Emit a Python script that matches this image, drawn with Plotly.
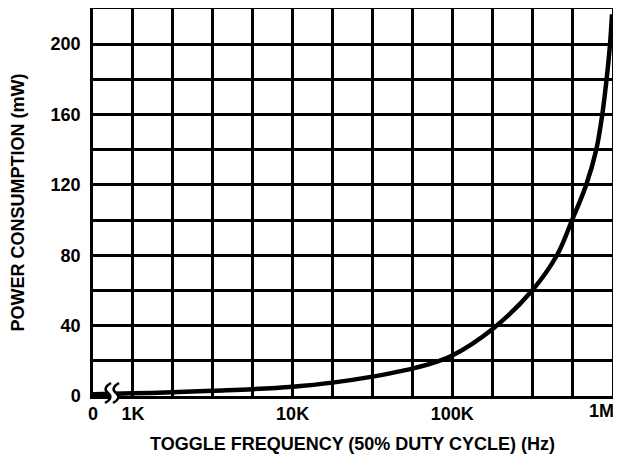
import plotly.graph_objects as go

# Data
freq_hz = [562, 1000, 1778, 3162, 5623, 10000, 17783, 31623, 46600, 56234, 83000,
           100000, 178000, 316228, 452000, 562341, 689000, 797000, 869000,
           925000, 972000, 1000000]
power_mw = [1.0, 1.5, 2.1, 3.0, 3.9, 5.3, 7.6, 11.0, 14.0, 15.6, 20.0,
            23.0, 38.0, 60.0, 80.0, 100.0, 120.0, 140.0, 160.0,
            180.0, 200.0, 217.0]

x_tick_exps = [2.75 + 0.25 * i for i in range(14)]
x_tick_text = ["0", "1K", "", "", "", "10K", "", "", "", "100K", "", "", "", ""]
x_last_label = "1M"
y_tick_vals = list(range(0, 221, 20))
y_tick_text = ["0", "", "40", "", "80", "", "120", "", "160", "", "200", ""]

FONT = "Liberation Sans"
FS = 18

# The page body has an 8px default margin, so the figure is offset by 8px.
OFF = 8
W, H = 621 - OFF, 464 - OFF
L, R, T, B = 93 - OFF, 612 - OFF, 1, 396 - OFF
PW, PH = R - L, B - T


def px(x_page):
    return (x_page - OFF - L) / PW


def py(y_page):
    return (B - (y_page - OFF)) / PH


fig = go.Figure()
fig.add_trace(go.Scatter(
    x=freq_hz, y=power_mw, mode="lines",
    line=dict(color="black", width=4.5, shape="spline", smoothing=1.0),
    showlegend=False, hoverinfo="skip",
))


# axis break symbol (two wavy lines) with white gap between
def wave(cx):
    return (f"M {px(cx + 3)},{py(383)} "
            f"Q {px(cx - 6)},{py(388)} {px(cx)},{py(393)} "
            f"Q {px(cx + 6)},{py(398)} {px(cx - 3)},{py(403)}")


c1, c2 = 108, 116
gap = (f"M {px(c1 + 3)},{py(383)} Q {px(c1 - 6)},{py(388)} {px(c1)},{py(393)} "
       f"Q {px(c1 + 6)},{py(398)} {px(c1 - 3)},{py(403)} "
       f"L {px(c2 - 3)},{py(403)} "
       f"Q {px(c2 + 6)},{py(398)} {px(c2)},{py(393)} "
       f"Q {px(c2 - 6)},{py(388)} {px(c2 + 3)},{py(383)} Z")
fig.add_shape(type="path", path=gap, xref="paper", yref="paper",
              fillcolor="white", line=dict(width=0), layer="above")
for c in (c1, c2):
    fig.add_shape(type="path", path=wave(c), xref="paper", yref="paper",
                  line=dict(color="black", width=2.5), layer="above")

# last x label, kept inside the page edge
fig.add_annotation(
    x=x_tick_exps[-1], y=0, xref="x", yref="paper", text=x_last_label,
    xanchor="right", yanchor="top", xshift=4, yshift=-3, showarrow=False,
    font=dict(family=FONT, size=FS, weight="bold", color="black"),
)

fig.update_layout(
    width=W, height=H,
    margin=dict(l=L, r=W - R, t=T, b=H - B),
    paper_bgcolor="white", plot_bgcolor="white",
    font=dict(family=FONT, color="black"),
)

fig.update_xaxes(
    type="log", range=[2.75, 6],
    tickmode="array", tickvals=[10 ** e for e in x_tick_exps], ticktext=x_tick_text,
    showgrid=True, gridcolor="black", gridwidth=2.5,
    showline=True, linecolor="black", linewidth=2.5, mirror=True,
    ticks="", ticklabelstandoff=0, automargin=False, ticklabeloverflow="allow",
    tickfont=dict(family=FONT, size=FS, weight="bold", color="black"),
    title=dict(text="TOGGLE FREQUENCY (50% DUTY CYCLE) (Hz)", standoff=15,
               font=dict(family=FONT, size=FS, weight="bold", color="black")),
    zeroline=False,
)
fig.update_yaxes(
    range=[0, 220],
    tickmode="array", tickvals=y_tick_vals, ticktext=y_tick_text,
    showgrid=True, gridcolor="black", gridwidth=2.5,
    showline=True, linecolor="black", linewidth=2.5, mirror=True,
    ticks="", ticklabelstandoff=6, automargin=False,
    tickfont=dict(family=FONT, size=FS, weight="bold", color="black"),
    title=dict(text="POWER CONSUMPTION (mW)", standoff=23,
               font=dict(family=FONT, size=FS, weight="bold", color="black")),
    zeroline=False,
)

fig.write_html("out.html")
